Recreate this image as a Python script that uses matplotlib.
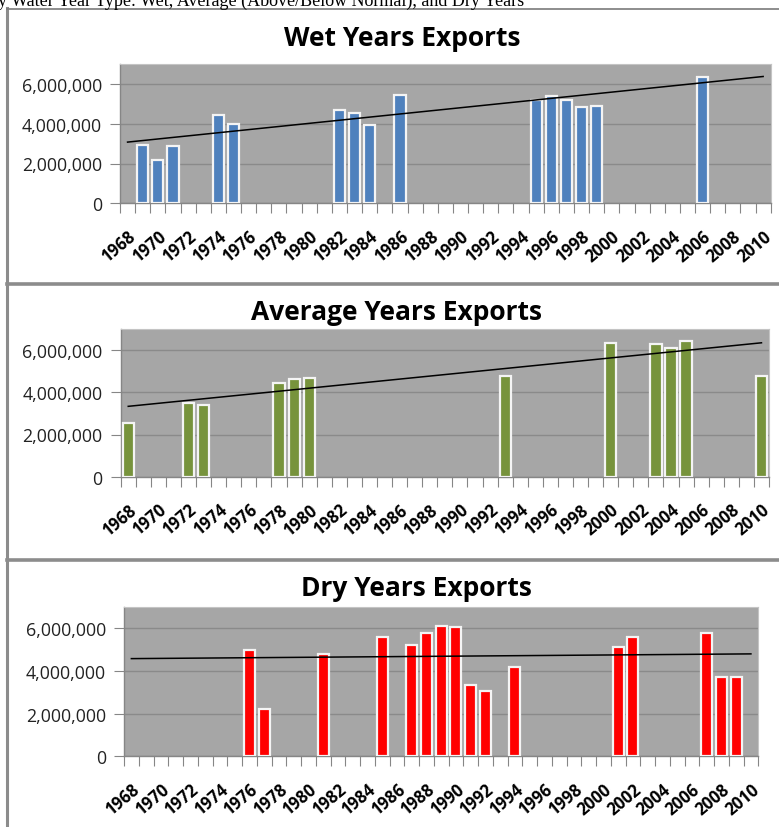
import numpy as np
import matplotlib
matplotlib.use("Agg")
import matplotlib.pyplot as plt
from matplotlib.lines import Line2D
from matplotlib.ticker import FuncFormatter

plt.rcParams['font.family'] = ['Open Sans', 'DejaVu Sans']

# export volumes by water year type
wet_years = [1969, 1970, 1971, 1974, 1975, 1982, 1983, 1984, 1986,
             1995, 1996, 1997, 1998, 1999, 2006]
wet_exports = [2930000, 2190000, 2900000, 4440000, 3980000, 4700000, 4520000,
               3950000, 5440000, 5210000, 5410000, 5210000, 4820000, 4900000,
               6330000]

avg_years = [1968, 1972, 1973, 1978, 1979, 1980, 1993, 2000, 2003, 2004,
             2005, 2010]
avg_exports = [2530000, 3480000, 3410000, 4430000, 4630000, 4660000, 4790000,
               6340000, 6290000, 6100000, 6450000, 4760000]

dry_years = [1976, 1977, 1981, 1985, 1987, 1988, 1989, 1990, 1991, 1992,
             1994, 2001, 2002, 2007, 2008, 2009]
dry_exports = [4970000, 2210000, 4810000, 5590000, 5200000, 5750000, 6100000,
               6030000, 3350000, 3070000, 4190000, 5120000, 5560000, 5790000,
               3720000, 3720000]

first_year = 1968
last_year = 2010
label_years = list(range(1968, 2011, 2))
y_ticks = [0, 2000000, 4000000, 6000000]

W, H = 779, 828
fig = plt.figure(figsize=(W / 100, H / 100), dpi=100)
fig.patch.set_facecolor("white")


def box(left, top, right, bottom):
    return [left / W, 1 - bottom / H, (right - left) / W, (bottom - top) / H]


def panel(rect, years, exports, color, title, title_x, title_y):
    ax = fig.add_axes(rect)
    ax.set_facecolor("#a6a6a6")
    ax.bar(years, exports, width=0.74, color=color, edgecolor="#f4f4f4",
           linewidth=1.6, zorder=3)

    # linear trend across the whole record
    k, b = np.polyfit(years, exports, 1)
    xs = np.array([first_year, last_year])
    ax.plot(xs, k * xs + b, color="black", linewidth=1.1, zorder=4)

    ax.set_xlim(first_year - 0.5, last_year + 0.5)
    ax.set_ylim(0, 7000000)
    ax.set_yticks(y_ticks)
    ax.yaxis.set_major_formatter(FuncFormatter(lambda v, p: "{:,.0f}".format(v)))
    ax.grid(axis="y", color="#8a8a8a", linewidth=1.0, zorder=1)
    ax.set_axisbelow(True)

    ax.set_xticks(np.arange(first_year - 0.5, last_year + 1.0, 1.0))
    ax.set_xticklabels([])
    ax.set_xticks(label_years, minor=True)
    ax.set_xticklabels([str(y) for y in label_years], minor=True,
                       rotation=40, ha="right", va="top",
                       rotation_mode="anchor", fontsize=12,
                       fontweight="bold")
    ax.tick_params(axis="x", which="major", length=7, color="#868686")
    ax.tick_params(axis="x", which="minor", length=0, pad=17)
    ax.tick_params(axis="y", length=7, color="#868686", labelsize=12.8,
                   pad=6, labelcolor="#222222")

    for s in ["top", "right"]:
        ax.spines[s].set_color("#c4c4c4")
        ax.spines[s].set_linewidth(0.8)
    for s in ["left", "bottom"]:
        ax.spines[s].set_color("#868686")
        ax.spines[s].set_linewidth(1.0)

    fig.text(title_x / W, 1 - title_y / H, title, ha="center",
             va="baseline", fontsize=19, fontweight="bold")
    return ax


panel(box(120, 65, 770.7, 204.3), wet_years, wet_exports, "#4f81bd",
      "Wet Years Exports", 402, 46)
panel(box(120.7, 330, 769, 477.7), avg_years, avg_exports, "#77933c",
      "Average Years Exports", 396.5, 320)
panel(box(124, 607.7, 758.3, 757.3), dry_years, dry_exports, "#ff0000",
      "Dry Years Exports", 416, 596)

# document frame around the three charts
frame = [
    ([6.5, 6.5], [9, H], 2.2, "#8c8c8c"),
    ([6.5, W], [9.5, 9.5], 1.2, "#7a7a7a"),
    ([6.5, W], [285, 285], 2.6, "#8c8c8c"),
    ([6.5, W], [560.5, 560.5], 2.6, "#8c8c8c"),
]
for xs, ys, lw, c in frame:
    fig.add_artist(Line2D([x / W for x in xs], [1 - y / H for y in ys],
                          linewidth=lw, color=c))

fig.text(-2 / W, 1 - 6 / H,
         "y Water Year Type: Wet, Average (Above/Below Normal), and Dry Years",
         family="Liberation Serif", fontsize=13, va="baseline", ha="left")

fig.savefig("out.png", dpi=100)
